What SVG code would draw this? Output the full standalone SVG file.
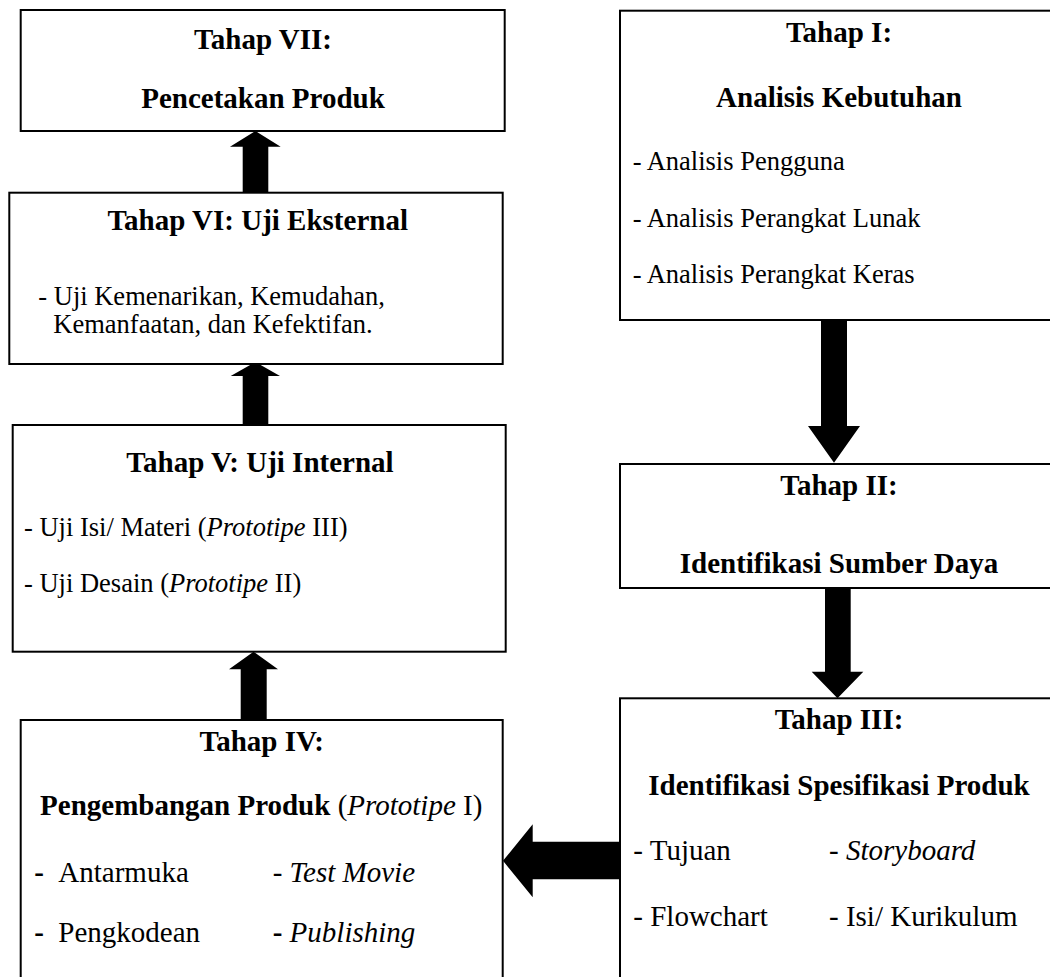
<svg xmlns="http://www.w3.org/2000/svg" width="1050" height="977" viewBox="0 0 1050 977">
<style>
.box{fill:#fff;stroke:#000;stroke-width:2}
.arr{fill:#000}
text{font-family:"Liberation Serif","Times New Roman",serif;fill:#000}
.h{font-weight:bold;font-size:29px;text-anchor:middle}
.s{font-size:26.5px}
.m{font-size:29px}
.b{font-weight:bold}
.i{font-style:italic}
</style>
<rect width="1050" height="977" fill="#fff"/>
<g id="connectors">
<polygon class="arr" points="242.7,192 242.7,146.7 230,146.7 255.4,131 280.7,146.7 268.3,146.7 268.3,192"/>
<polygon class="arr" points="242.7,425 242.7,376 230.7,376 255.4,362 280,376 268.3,376 268.3,425"/>
<polygon class="arr" points="240.7,720 240.7,669.3 229,669.3 253.5,651.7 278,669.3 266.7,669.3 266.7,720"/>
<polygon class="arr" points="821,320 821,426 808,426 834,462.7 860,426 847,426 847,320"/>
<polygon class="arr" points="825,588 825,671.7 811.7,671.7 837.5,698.3 863.3,671.7 850.7,671.7 850.7,588"/>
<polygon class="arr" points="620,841.7 532.7,841.7 532.7,824.3 503,860.8 532.7,897.3 532.7,879.3 620,879.3"/>
</g>
<g id="tahap7">
<rect class="box" x="20.7" y="10" width="484" height="121"/>
<text class="h" x="263" y="49.3">Tahap VII:</text>
<text class="h" x="263" y="108.3">Pencetakan Produk</text>
</g>
<g id="tahap6">
<rect class="box" x="9.3" y="192.7" width="493.4" height="171.3"/>
<text class="h" x="257.7" y="230">Tahap VI: Uji Eksternal</text>
<text class="s" x="38.3" y="305">- Uji Kemenarikan, Kemudahan,</text>
<text class="s" x="53.3" y="333.3">Kemanfaatan, dan Kefektifan.</text>
</g>
<g id="tahap5">
<rect class="box" x="12.7" y="425" width="493" height="226.7"/>
<text class="h" x="260" y="471.7">Tahap V: Uji Internal</text>
<text class="s" x="24" y="536">- Uji Isi/ Materi (<tspan class="i">Prototipe</tspan> III)</text>
<text class="s" x="24" y="592">- Uji Desain (<tspan class="i">Prototipe</tspan> II)</text>
</g>
<g id="tahap4">
<rect class="box" x="20.7" y="720" width="482" height="280"/>
<text class="h" x="261.7" y="751">Tahap IV:</text>
<text class="m" x="261.2" y="815" text-anchor="middle"><tspan class="b">Pengembangan Produk</tspan> (<tspan class="i">Prototipe</tspan> I)</text>
<text class="m b" x="34.3" y="881.7">-</text>
<text class="m" x="58.3" y="881.7">Antarmuka</text>
<text class="m" x="272.7" y="881.7">- <tspan class="i">Test Movie</tspan></text>
<text class="m b" x="34.3" y="942">-</text>
<text class="m" x="58.3" y="942">Pengkodean</text>
<text class="m" x="272.7" y="942"><tspan class="b">-</tspan> <tspan class="i">Publishing</tspan></text>
</g>
<g id="tahap1">
<rect class="box" x="620" y="10.7" width="440" height="309.3"/>
<text class="h" x="839" y="41.7">Tahap I:</text>
<text class="h" x="839" y="106.7">Analisis Kebutuhan</text>
<text class="s" x="632.7" y="170">- Analisis Pengguna</text>
<text class="s" x="632.7" y="226.7">- Analisis Perangkat Lunak</text>
<text class="s" x="632.7" y="283.3">- Analisis Perangkat Keras</text>
</g>
<g id="tahap2">
<rect class="box" x="620" y="464" width="440" height="124"/>
<text class="h" x="839" y="495">Tahap II:</text>
<text class="h" x="839" y="572.7">Identifikasi Sumber Daya</text>
</g>
<g id="tahap3">
<rect class="box" x="620" y="698.3" width="440" height="300"/>
<text class="h" x="839" y="729">Tahap III:</text>
<text class="h" x="839" y="795">Identifikasi Spesifikasi Produk</text>
<text class="m" x="633.3" y="860">- Tujuan</text>
<text class="m" x="829" y="860">- <tspan class="i">Storyboard</tspan></text>
<text class="m" x="633.3" y="926">- Flowchart</text>
<text class="m" x="829" y="926">- Isi/ Kurikulum</text>
</g>
</svg>
